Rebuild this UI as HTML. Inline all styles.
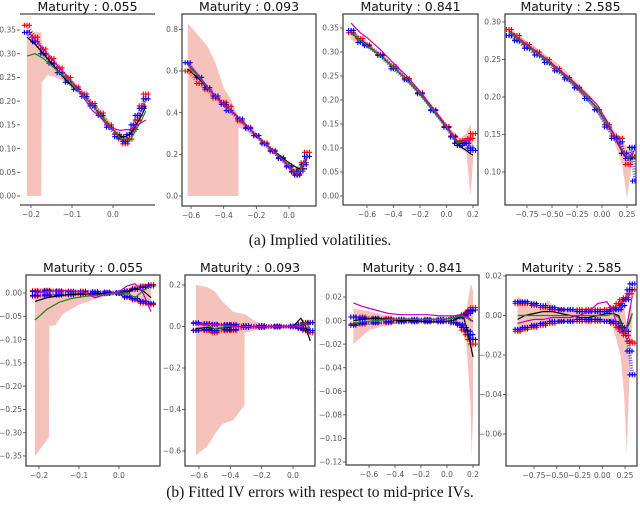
<!DOCTYPE html>
<html><head><meta charset="utf-8"><style>
html,body{margin:0;padding:0;background:#fff;width:640px;height:513px;overflow:hidden}
svg{display:block}
.tt{font-family:"DejaVu Sans","Liberation Sans",sans-serif;font-size:12.5px;fill:#111}
.tk{font-family:"DejaVu Sans","Liberation Sans",sans-serif;font-size:7.5px;fill:#555}
.cap{font-family:"Liberation Serif",serif;font-size:15.5px;fill:#111}
</style></head><body>
<svg id="fig" width="640" height="513" viewBox="0 0 640 513" xmlns="http://www.w3.org/2000/svg">
<text class="cap" x="320" y="245" text-anchor="middle">(a) Implied volatilities.</text>
<text class="cap" x="320" y="497" text-anchor="middle">(b) Fitted IV errors with respect to mid-price IVs.</text>
</svg>
<script>
// ===== Top row: implied volatilities =====
const t1Strikes=[-0.21,-0.19,-0.17,-0.15,-0.13,-0.11,-0.09,-0.07,-0.05,-0.03,-0.01,0.01,0.02,0.03,0.04,0.05,0.06,0.07,0.08];
const t1Red=[0.36,0.335,0.31,0.29,0.27,0.25,0.23,0.215,0.195,0.175,0.15,0.13,0.12,0.11,0.12,0.14,0.16,0.19,0.215];
const t1Blue=[0.345,0.325,0.30,0.28,0.26,0.24,0.225,0.21,0.19,0.17,0.145,0.125,0.125,0.115,0.13,0.15,0.17,0.185,0.205];
const t1Black=[0.335,0.32,0.30,0.28,0.26,0.24,0.225,0.21,0.19,0.17,0.15,0.13,0.125,0.125,0.13,0.14,0.155,0.17,0.19];
const t1Green=[0.295,0.30,0.29,0.275,0.26,0.245,0.225,0.21,0.19,0.17,0.15,0.13,0.12,0.12,0.115,0.13,0.145,0.16,0.18];
const t1Magenta=[0.35,0.33,0.31,0.29,0.27,0.25,0.23,0.205,0.18,0.165,0.145,0.14,0.138,0.14,0.14,0.145,0.15,0.155,0.16];
const t1BandX=[-0.21,-0.175,-0.174,-0.16,-0.14,-0.1,-0.05,0,0.02,0.04,0.06,0.08];
const t1BandLo=[0,0,0.24,0.255,0.25,0.235,0.19,0.14,0.12,0.115,0.15,0.19];
const t1BandHi=[0.345,0.345,0.32,0.30,0.28,0.245,0.2,0.15,0.13,0.13,0.165,0.21];
const t1XTicks=[-0.2,-0.1,0.0];
const t1XLabels=["−0.2","−0.1","0.0"];
const t1YTicks=[0,0.05,0.1,0.15,0.2,0.25,0.3,0.35];
const t1YLabels=["0.00","0.05","0.10","0.15","0.20","0.25","0.30","0.35"];

const t2Strikes=[-0.62,-0.55,-0.5,-0.45,-0.4,-0.37,-0.3,-0.25,-0.2,-0.15,-0.1,-0.05,0,0.03,0.05,0.07,0.09,0.11];
const t2Red=[0.60,0.54,0.51,0.47,0.45,0.43,0.36,0.33,0.29,0.255,0.22,0.185,0.145,0.12,0.105,0.13,0.16,0.21];
const t2Blue=[0.64,0.57,0.52,0.48,0.44,0.41,0.37,0.325,0.29,0.25,0.215,0.18,0.14,0.115,0.10,0.12,0.15,0.19];
const t2Black=[0.61,0.56,0.52,0.48,0.44,0.42,0.37,0.33,0.29,0.255,0.22,0.19,0.16,0.145,0.135,0.13,0.13,0.13];
const t2Green=[0.63,0.57,0.52,0.48,0.44,0.42,0.37,0.33,0.29,0.255,0.22,0.185,0.145,0.12,0.11,0.13,0.16,0.19];
const t2Magenta=[0.64,0.575,0.525,0.48,0.44,0.415,0.37,0.33,0.29,0.252,0.217,0.182,0.142,0.117,0.10,0.12,0.15,0.18];
const t2BandX=[-0.62,-0.5,-0.45,-0.4,-0.36,-0.31,-0.309,-0.2,0,0.05,0.11];
const t2BandLo=[0,0,0,0,0,0,0.33,0.28,0.13,0.10,0.17];
const t2BandHi=[0.83,0.72,0.64,0.52,0.47,0.38,0.37,0.30,0.15,0.12,0.2];
const t2XTicks=[-0.6,-0.4,-0.2,0.0];
const t2XLabels=["−0.6","−0.4","−0.2","0.0"];
const t2YTicks=[0,0.2,0.4,0.6,0.8];
const t2YLabels=["0.0","0.2","0.4","0.6","0.8"];

const t3Strikes=[-0.72,-0.65,-0.6,-0.5,-0.4,-0.3,-0.2,-0.1,0,0.05,0.08,0.1,0.12,0.15,0.18,0.2];
const t3Red=[0.34,0.328,0.315,0.295,0.27,0.245,0.215,0.18,0.145,0.125,0.11,0.11,0.115,0.115,0.12,0.13];
const t3Blue=[0.345,0.32,0.313,0.293,0.265,0.242,0.213,0.178,0.143,0.123,0.11,0.105,0.11,0.11,0.10,0.095];
const t3Black=[0.34,0.325,0.313,0.293,0.268,0.243,0.213,0.178,0.143,0.123,0.108,0.104,0.1,0.095,0.088,0.085];
const t3Green=[0.34,0.325,0.313,0.293,0.268,0.243,0.213,0.178,0.143,0.123,0.11,0.112,0.112,0.115,0.118,0.12];
const t3Magenta=[0.36,0.34,0.33,0.305,0.277,0.25,0.218,0.182,0.146,0.125,0.115,0.114,0.113,0.115,0.117,0.12];
const t3BandX=[-0.72,-0.6,-0.4,-0.2,0,0.1,0.15,0.18,0.2];
const t3BandLo=[0.325,0.31,0.265,0.21,0.14,0.1,0.09,0.0,0.07];
const t3BandHi=[0.35,0.32,0.275,0.22,0.15,0.12,0.13,0.15,0.12];
const t3XTicks=[-0.6,-0.4,-0.2,0.0,0.2];
const t3XLabels=["−0.6","−0.4","−0.2","0.0","0.2"];
const t3YTicks=[0,0.05,0.1,0.15,0.2,0.25,0.3,0.35];
const t3YLabels=["0.00","0.05","0.10","0.15","0.20","0.25","0.30","0.35"];

const t4Strikes=[-0.93,-0.85,-0.75,-0.65,-0.55,-0.45,-0.35,-0.25,-0.15,-0.05,0.05,0.12,0.18,0.22,0.26,0.3,0.33];
const t4Red=[0.29,0.282,0.27,0.26,0.25,0.238,0.226,0.213,0.198,0.183,0.163,0.148,0.145,0.125,0.11,0.12,0.12];
const t4Blue=[0.282,0.275,0.265,0.256,0.246,0.235,0.224,0.212,0.198,0.183,0.16,0.145,0.14,0.125,0.118,0.133,0.088];
const t4Black=[0.287,0.278,0.268,0.258,0.248,0.237,0.226,0.213,0.2,0.186,0.165,0.15,0.132,0.123,0.118,0.12,0.12];
const t4Green=[0.287,0.278,0.268,0.258,0.248,0.237,0.226,0.213,0.2,0.186,0.165,0.15,0.135,0.125,0.118,0.121,0.12];
const t4Magenta=[0.289,0.28,0.27,0.26,0.25,0.239,0.228,0.216,0.203,0.19,0.168,0.15,0.133,0.124,0.12,0.124,0.13];
const t4BandX=[-0.93,-0.7,-0.4,-0.1,0.1,0.2,0.25,0.3,0.33];
const t4BandLo=[0.28,0.262,0.23,0.19,0.15,0.11,0.065,0.11,0.12];
const t4BandHi=[0.29,0.27,0.24,0.2,0.16,0.14,0.135,0.125,0.12];
const t4XTicks=[-0.75,-0.5,-0.25,0.0,0.25];
const t4XLabels=["−0.75","−0.50","−0.25","0.00","0.25"];
const t4YTicks=[0.1,0.15,0.2,0.25,0.3];
const t4YLabels=["0.10","0.15","0.20","0.25","0.30"];

// ===== Bottom row: errors =====
const b1Strikes=[-0.21,-0.18,-0.15,-0.12,-0.09,-0.06,-0.03,0,0.02,0.04,0.06,0.08];
const b1RedHi=[0.005,0.006,0.005,0.004,0.004,0.003,0.002,0.001,0.005,0.01,0.015,0.018];
const b1RedLo=[-0.007,-0.006,-0.005,-0.004,-0.003,-0.002,-0.001,-0.001,-0.01,-0.015,-0.022,-0.025];
const b1BlueHi=[0.003,0.004,0.004,0.003,0.003,0.002,0.002,0.001,0.004,0.008,0.012,0.015];
const b1BlueLo=[-0.005,-0.004,-0.004,-0.003,-0.002,-0.002,-0.001,-0.001,-0.008,-0.012,-0.018,-0.022];
const b1Black=[-0.018,-0.01,-0.006,-0.003,-0.002,-0.002,-0.001,0,0.002,0.01,0.005,-0.01];
const b1Green=[-0.058,-0.035,-0.02,-0.012,-0.008,-0.005,-0.003,0,0.0,-0.01,0.005,0.015];
const b1Magenta=[0.0,0.003,0.005,0.005,0.002,-0.01,-0.002,0.003,0.015,0.02,0.0,-0.04];
const b1BandX=[-0.21,-0.175,-0.174,-0.16,-0.14,-0.1,-0.05,0,0.05,0.08];
const b1BandLo=[-0.35,-0.31,-0.07,-0.07,-0.045,-0.025,-0.01,-0.003,-0.02,-0.03];
const b1BandHi=[0.01,0.01,0.01,0.008,0.007,0.006,0.004,0.003,0.02,0.02];
const b1XTicks=[-0.2,-0.1,0.0];
const b1XLabels=["−0.2","−0.1","0.0"];
const b1YTicks=[0,-0.05,-0.1,-0.15,-0.2,-0.25,-0.3,-0.35];
const b1YLabels=["0.00","−0.05","−0.10","−0.15","−0.20","−0.25","−0.30","−0.35"];

const b2Strikes=[-0.62,-0.55,-0.5,-0.42,-0.38,-0.3,-0.2,-0.1,0,0.05,0.08,0.11];
const b2RedHi=[0.015,0.015,0.01,0.01,0.01,0.005,0.005,0.003,0.002,0.01,0.02,0.02];
const b2RedLo=[-0.02,-0.02,-0.03,-0.02,-0.02,-0.005,-0.005,-0.003,-0.002,-0.01,-0.02,-0.03];
const b2BlueHi=[0.018,0.012,0.01,0.008,0.008,0.004,0.004,0.002,0.002,0.008,0.015,0.018];
const b2BlueLo=[-0.018,-0.015,-0.02,-0.015,-0.015,-0.004,-0.004,-0.002,-0.002,-0.008,-0.015,-0.02];
const b2Black=[-0.01,-0.005,-0.01,-0.005,0,0,0,0,0,0.04,0.0,-0.07];
const b2Green=[0.01,0.005,-0.01,0,0,0,0,0,0,0.01,0.02,-0.01];
const b2Magenta=[0.01,0.01,0.01,0.005,0,0,0,0,0,0,0.01,0.01];
const b2BandX=[-0.62,-0.55,-0.5,-0.45,-0.38,-0.31,-0.309,-0.25,-0.2,0,0.11];
const b2BandLo=[-0.62,-0.58,-0.52,-0.47,-0.45,-0.38,-0.03,-0.02,-0.01,-0.005,-0.02];
const b2BandHi=[0.2,0.19,0.17,0.12,0.07,0.06,0.06,0.03,0.01,0.005,0.02];
const b2XTicks=[-0.6,-0.4,-0.2,0.0];
const b2XLabels=["−0.6","−0.4","−0.2","0.0"];
const b2YTicks=[0.2,0,-0.2,-0.4,-0.6];
const b2YLabels=["0.2","0.0","−0.2","−0.4","−0.6"];

const b3Strikes=[-0.72,-0.65,-0.55,-0.45,-0.35,-0.25,-0.15,-0.05,0.05,0.1,0.13,0.16,0.18,0.2];
const b3RedHi=[0.003,0.003,0.002,0.002,0.001,0.001,0.001,0.001,0.002,0.003,0.005,0.007,0.009,0.011];
const b3RedLo=[-0.003,-0.003,-0.002,-0.002,-0.001,-0.001,-0.001,-0.001,-0.002,-0.004,-0.008,-0.012,-0.016,-0.02];
const b3BlueHi=[0.003,0.002,0.002,0.001,0.001,0.001,0.001,0.001,0.002,0.003,0.004,0.006,0.008,0.009];
const b3BlueLo=[-0.004,-0.002,-0.002,-0.001,-0.001,-0.001,-0.001,-0.001,-0.002,-0.003,-0.006,-0.009,-0.012,-0.016];
const b3Black=[0,0.001,0.002,0.001,0,0,-0.001,-0.001,0,0.003,0.002,-0.01,-0.02,-0.031];
const b3Green=[-0.002,-0.001,0,0.001,0.001,0.001,0.001,0.001,0.002,0.004,0.003,0.002,0.0,0.0];
const b3Magenta=[0.015,0.012,0.009,0.006,0.005,0.005,0.005,0.004,0.004,0.005,0.004,0.003,0.001,-0.001];
const b3BandX=[-0.72,-0.6,-0.5,-0.4,-0.2,0,0.1,0.15,0.18,0.19,0.2];
const b3BandLo=[-0.02,-0.008,-0.005,-0.003,-0.002,-0.002,-0.004,-0.02,-0.07,-0.115,-0.08];
const b3BandHi=[0.01,0.008,0.005,0.003,0.002,0.002,0.004,0.01,0.03,0.03,0.025];
const b3XTicks=[-0.6,-0.4,-0.2,0.0,0.2];
const b3XLabels=["−0.6","−0.4","−0.2","0.0","0.2"];
const b3YTicks=[0.02,0,-0.02,-0.04,-0.06,-0.08,-0.1,-0.12];
const b3YLabels=["0.02","0.00","−0.02","−0.04","−0.06","−0.08","−0.10","−0.12"];

const b4Strikes=[-0.93,-0.85,-0.75,-0.65,-0.55,-0.45,-0.35,-0.25,-0.15,-0.05,0.05,0.12,0.18,0.22,0.26,0.3,0.33];
const b4RedHi=[0.006,0.006,0.005,0.004,0.003,0.003,0.003,0.003,0.003,0.003,0.003,0.004,0.006,0.008,0.009,0.011,0.013];
const b4RedLo=[-0.008,-0.007,-0.006,-0.005,-0.004,-0.003,-0.003,-0.003,-0.003,-0.003,-0.003,-0.004,-0.006,-0.008,-0.01,-0.013,-0.014];
const b4BlueHi=[0.007,0.007,0.006,0.005,0.004,0.003,0.003,0.002,0.002,0.002,0.002,0.003,0.003,0.005,0.008,0.013,0.016];
const b4BlueLo=[-0.007,-0.006,-0.005,-0.004,-0.003,-0.003,-0.003,-0.002,-0.002,-0.002,-0.003,-0.003,-0.004,-0.006,-0.008,-0.018,-0.03];
const b4Black=[-0.002,0,0.001,0.002,0.002,0.001,0,-0.001,-0.001,0,0.001,0.001,0,-0.005,-0.008,-0.003,0.001];
const b4Green=[0,0,0,0,0,0,0,0,0,0,0,0.001,-0.001,-0.006,-0.008,-0.004,0.001];
const b4Magenta=[-0.004,-0.003,-0.002,-0.002,-0.001,-0.001,-0.001,0,0.002,0.006,0.007,0.002,-0.008,-0.009,-0.008,0.002,0.01];
const b4BandX=[-0.93,-0.8,-0.65,-0.6,-0.5,-0.3,-0.1,0.1,0.2,0.24,0.27,0.3,0.33];
const b4BandLo=[-0.01,-0.006,-0.004,-0.005,-0.003,-0.002,-0.002,-0.003,-0.02,-0.04,-0.07,-0.03,-0.003];
const b4BandHi=[0.01,0.004,0.003,0.008,0.003,0.002,0.002,0.003,0.008,0.005,-0.005,0.005,0.005];
const b4XTicks=[-0.75,-0.5,-0.25,0.0,0.25];
const b4XLabels=["−0.75","−0.50","−0.25","0.00","0.25"];
const b4YTicks=[0.02,0,-0.02,-0.04,-0.06];
const b4YLabels=["0.02","0.00","−0.02","−0.04","−0.06"];

const titles=["Maturity : 0.055","Maturity : 0.093","Maturity : 0.841","Maturity : 2.585"];

const panels=[
 {id:"iv-055",box:[20,14,155,205],xc:[-0.2,31,0,113],yc:[0.35,30,0,196],t:0,noSides:true,
  s:t1Strikes,sc:[["red",t1Red],["blue",t1Blue]],ln:[["#000",t1Black],["#1a8a1a",t1Green],["#c000c0",t1Magenta]],
  bx:t1BandX,blo:t1BandLo,bhi:t1BandHi,xt:t1XTicks,xl:t1XLabels,yt:t1YTicks,yl:t1YLabels},
 {id:"iv-093",box:[182,14,316,206],xc:[-0.6,191,0,289],yc:[0.6,71,0,196],t:1,
  s:t2Strikes,sc:[["red",t2Red],["blue",t2Blue]],ln:[["#000",t2Black],["#1a8a1a",t2Green],["#c000c0",t2Magenta]],
  bx:t2BandX,blo:t2BandLo,bhi:t2BandHi,xt:t2XTicks,xl:t2XLabels,yt:t2YTicks,yl:t2YLabels},
 {id:"iv-841",box:[343,14,478,205],xc:[-0.6,367,0.2,473],yc:[0.35,28,0,196],t:2,
  s:t3Strikes,sc:[["red",t3Red],["blue",t3Blue]],ln:[["#000",t3Black],["#1a8a1a",t3Green],["#c000c0",t3Magenta]],
  bx:t3BandX,blo:t3BandLo,bhi:t3BandHi,xt:t3XTicks,xl:t3XLabels,yt:t3YTicks,yl:t3YLabels},
 {id:"iv-2585",box:[505,14,636,205],xc:[-0.75,527,0.25,627],yc:[0.3,22,0.1,172],t:3,
  s:t4Strikes,sc:[["red",t4Red],["blue",t4Blue]],ln:[["#000",t4Black],["#1a8a1a",t4Green],["#c000c0",t4Magenta]],
  bx:t4BandX,blo:t4BandLo,bhi:t4BandHi,xt:t4XTicks,xl:t4XLabels,yt:t4YTicks,yl:t4YLabels},
 {id:"err-055",box:[26,275,160,466],xc:[-0.2,39,0,119],yc:[0,293,-0.35,456],t:0,
  s:b1Strikes,sc:[["red",b1RedHi],["red",b1RedLo],["blue",b1BlueHi],["blue",b1BlueLo]],ln:[["#000",b1Black],["#1a8a1a",b1Green],["#c000c0",b1Magenta]],
  bx:b1BandX,blo:b1BandLo,bhi:b1BandHi,xt:b1XTicks,xl:b1XLabels,yt:b1YTicks,yl:b1YLabels},
 {id:"err-093",box:[185,275,315,466],xc:[-0.6,199,0,293],yc:[0.2,285,-0.6,451],t:1,
  s:b2Strikes,sc:[["red",b2RedHi],["red",b2RedLo],["blue",b2BlueHi],["blue",b2BlueLo]],ln:[["#000",b2Black],["#1a8a1a",b2Green],["#c000c0",b2Magenta]],
  bx:b2BandX,blo:b2BandLo,bhi:b2BandHi,xt:b2XTicks,xl:b2XLabels,yt:b2YTicks,yl:b2YLabels},
 {id:"err-841",box:[346,275,479,465],xc:[-0.6,369,0.2,473],yc:[0.02,297,-0.12,462],t:2,
  s:b3Strikes,sc:[["red",b3RedHi],["red",b3RedLo],["blue",b3BlueHi],["blue",b3BlueLo]],ln:[["#000",b3Black],["#1a8a1a",b3Green],["#c000c0",b3Magenta]],
  bx:b3BandX,blo:b3BandLo,bhi:b3BandHi,xt:b3XTicks,xl:b3XLabels,yt:b3YTicks,yl:b3YLabels},
 {id:"err-2585",box:[506,275,637,466],xc:[-0.75,534,0.25,625],yc:[0.02,276,-0.06,434],t:3,
  s:b4Strikes,sc:[["red",b4RedHi],["red",b4RedLo],["blue",b4BlueHi],["blue",b4BlueLo]],ln:[["#000",b4Black],["#1a8a1a",b4Green],["#c000c0",b4Magenta]],
  bx:b4BandX,blo:b4BandLo,bhi:b4BandHi,xt:b4XTicks,xl:b4XLabels,yt:b4YTicks,yl:b4YLabels}
];

const NS="http://www.w3.org/2000/svg";
const svg=document.getElementById("fig");
function mk(tag,attrs,parent){const e=document.createElementNS(NS,tag);for(const k in attrs)e.setAttribute(k,attrs[k]);parent.appendChild(e);return e;}

panels.forEach(p=>{
  const [L,T,R,B]=p.box;
  const sx=v=>p.xc[1]+(v-p.xc[0])*(p.xc[3]-p.xc[1])/(p.xc[2]-p.xc[0]);
  const sy=v=>p.yc[1]+(v-p.yc[0])*(p.yc[3]-p.yc[1])/(p.yc[2]-p.yc[0]);
  const g=mk("g",{},svg);
  
  
  const cp="clip-"+p.id;
  const cl=mk("clipPath",{id:cp},g);mk("rect",{x:L,y:T,width:R-L,height:B-T},cl);
  const plot=mk("g",{"clip-path":"url(#"+cp+")"},g);
  let d="M";p.bx.forEach((x,i)=>{d+=(i?" L":"")+sx(x).toFixed(1)+","+sy(p.bhi[i]).toFixed(1);});
  for(let i=p.bx.length-1;i>=0;i--)d+=" L"+sx(p.bx[i]).toFixed(1)+","+sy(p.blo[i]).toFixed(1);
  const band=mk("path",{d:d+"Z",fill:"#f5c3bb",stroke:"none"},plot);
  
  
  p.sc.forEach(([col,ys])=>{
    const sg=mk("g",{stroke:col,"stroke-width":1.1},plot);
    
    
    // dense marker trail
    const pts=p.s.map((x,i)=>sx(x).toFixed(1)+","+sy(ys[i]).toFixed(1)).join(" ");
    mk("polyline",{points:pts,fill:"none","stroke-width":3.5,"stroke-opacity":0.55,"stroke-dasharray":"1.2 1.3"},sg);
    p.s.forEach((x,i)=>{
      const X=sx(x),Y=sy(ys[i]);
      for(const o of [-2.5,0,2.5]){
        const px=X+o;
        mk("path",{d:`M${(px-2.5).toFixed(1)},${Y.toFixed(1)}h5M${px.toFixed(1)},${(Y-2.5).toFixed(1)}v5`},sg);
      }
    });
  });
  p.ln.forEach(([col,ys])=>{
    const pts=p.s.map((x,i)=>sx(x).toFixed(1)+","+sy(ys[i]).toFixed(1)).join(" ");
    const pl=mk("polyline",{points:pts,fill:"none",stroke:col,"stroke-width":1.2},plot);
    
    
  });
  if(p.noSides){
    mk("line",{x1:L,y1:T,x2:R,y2:T,stroke:"#444","stroke-width":1.3},g);
    mk("line",{x1:L,y1:B,x2:R,y2:B,stroke:"#444","stroke-width":1.3},g);
  } else {
    const fr=mk("rect",{x:L,y:T,width:R-L,height:B-T,fill:"none",stroke:"#444","stroke-width":1.3},g);
    
    
  }
  p.xt.forEach((v,i)=>{
    const X=sx(v);
    mk("line",{x1:X,y1:B,x2:X,y2:B+3,stroke:"#444","stroke-width":0.8},g);
    const t=mk("text",{x:X,y:B+12,"text-anchor":"middle",class:"tk"},g);t.textContent=p.xl[i];
    
    
  });
  p.yt.forEach((v,i)=>{
    const Y=sy(v);
    mk("line",{x1:L-3,y1:Y,x2:L,y2:Y,stroke:"#444","stroke-width":0.8},g);
    const t=mk("text",{x:L-4,y:Y+2.7,"text-anchor":"end",class:"tk"},g);t.textContent=p.yl[i];
    
    
  });
  const tt=mk("text",{x:(L+R)/2,y:T-3,"text-anchor":"middle",class:"tt"},g);tt.textContent=titles[p.t];
  
  
});
</script>
</body></html>
